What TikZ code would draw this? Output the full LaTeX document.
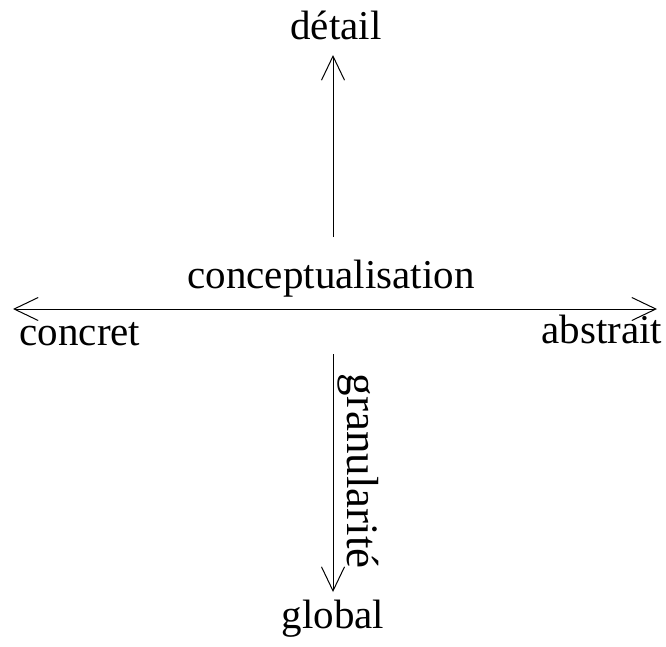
\documentclass[tikz,border=0pt]{standalone}
\usepackage{fontspec}
\setmainfont{Liberation Serif}
\usepackage{tikz}
\usetikzlibrary{arrows.meta, positioning}
\tikzstyle{axislabel} = [font=\fontsize{41}{45}\selectfont, inner sep=0pt, anchor=base]
\tikzstyle{barb} = [>={Straight Barb[length=24pt, width=23pt, line width=1pt]}]
\tikzstyle{axis} = [line width=1pt, barb, ->]

\begin{document}
\begin{tikzpicture}[x=1pt, y=-1pt]
        \useasboundingbox (0,0) rectangle (666,646);
        \node (detail) [axislabel] at (336,39) {détail};
        \node (concept) [axislabel] at (331,288) {conceptualisation};
        \node (concret) [axislabel] at (80,345) {concret};
        \node (abstrait) [axislabel] at (602,343) {abstrait};
        \node (global) [axislabel] at (333,628) {global};
        \node (granul) [axislabel, font=\fontsize{45}{49}\selectfont, rotate=-90] at (347,471) {granularité};

        \coordinate (topstart) at (333,237);
        \coordinate (toptip) at (333,55);
        \coordinate (lefttip) at (13,309);
        \coordinate (righttip) at (657,309);
        \coordinate (botstart) at (333,354);
        \coordinate (bottip) at (333,592);

        \draw [axis] (topstart) -- (toptip);
        \draw [axis, <->] (lefttip) -- (righttip);
        \draw [axis] (botstart) -- (bottip);
    \end{tikzpicture}
\end{document}
